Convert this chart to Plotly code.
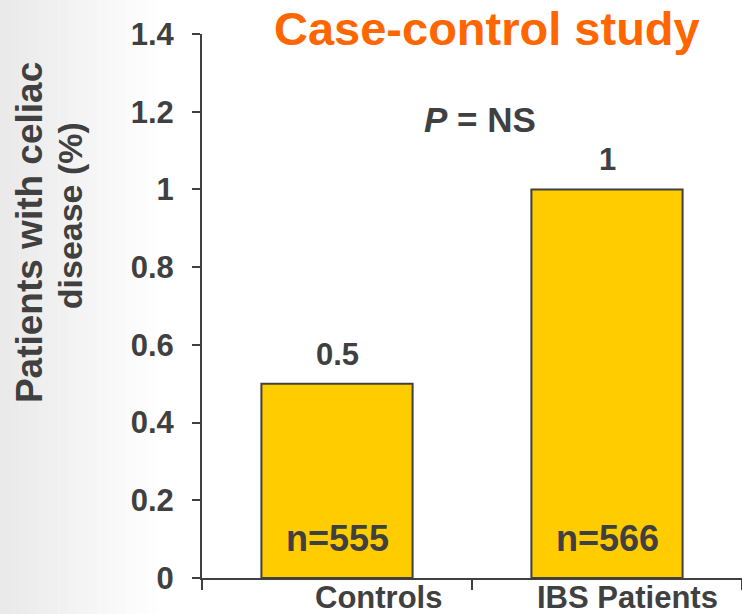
import plotly.graph_objects as go

# ---- data ----
categories = ["Controls", "IBS Patients"]
values = [0.5, 1.0]
n_sizes = [555, 566]
y_ticks = [0, 0.2, 0.4, 0.6, 0.8, 1.0, 1.2, 1.4]
y_tick_labels = ["0", "0.2", "0.4", "0.6", "0.8", "1", "1.2", "1.4"]
title_text = "Case-control study"
y_title_lines = ["Patients with celiac", "disease (%)"]
p_text = "<i>P</i> = NS"

# ---- style ----
DARK = "#404040"
FONT = "Liberation Sans, Arial, sans-serif"
cat_label_shift = [41, 20]
y_title_pos = [(-173, 0.634, 37), (-132, 0.665, 34)]

fig = go.Figure()
fig.add_trace(go.Bar(
    x=categories, y=values, width=0.56,
    marker=dict(color="#FFCC00", line=dict(color=DARK, width=2)),
    hoverinfo="skip",
))

ann = []
# value labels above bars
for c, v in zip(categories, values):
    ann.append(dict(x=c, y=v, xref="x", yref="y", text=f"{v:g}", showarrow=False,
                    yanchor="bottom", yshift=10,
                    font=dict(family=FONT, size=31, color=DARK, weight="bold")))
# n labels inside bars
for c, n in zip(categories, n_sizes):
    ann.append(dict(x=c, y=0, xref="x", yref="y", text=f"n={n}", showarrow=False,
                    yanchor="bottom", yshift=17,
                    font=dict(family=FONT, size=36, color=DARK, weight="bold")))
# category labels
for c, s in zip(categories, cat_label_shift):
    ann.append(dict(x=c, y=0, xref="x", yref="paper", text=c, showarrow=False,
                    yanchor="top", yshift=0, xshift=s,
                    font=dict(family=FONT, size=31, color=DARK, weight="bold")))
# title
ann.append(dict(x=0.527, y=1.010, xref="paper", yref="paper", text=title_text,
                showarrow=False, xanchor="center", yanchor="middle",
                font=dict(family=FONT, size=47, color="#FF6600", weight="bold")))
# P = NS
ann.append(dict(x=0.515, y=0.842, xref="paper", yref="paper", text=p_text,
                showarrow=False, xanchor="center", yanchor="middle",
                font=dict(family=FONT, size=35, color=DARK, weight="bold")))
# y title (two lines)
for line, (xs, yp, fs) in zip(y_title_lines, y_title_pos):
    ann.append(dict(x=0, y=yp, xref="paper", yref="paper", text=line,
                    showarrow=False, xanchor="center", yanchor="middle", xshift=xs,
                    textangle=-90,
                    font=dict(family=FONT, size=fs, color=DARK, weight="bold")))

# background gradient on the left
shapes = []
n_strips = 16
for i in range(n_strips):
    x0 = -0.374 + i * 0.018
    g = int(234 + (255 - 234) * i / n_strips)
    shapes.append(dict(type="rect", xref="paper", yref="paper",
                       x0=x0, x1=x0 + 0.0185, y0=-0.1, y1=1.1, layer="below",
                       line=dict(width=0), fillcolor=f"rgb({g},{g},{g})"))

fig.update_layout(
    width=742, height=614,
    margin=dict(l=202, r=0, t=34, b=36),
    paper_bgcolor="white", plot_bgcolor="rgba(0,0,0,0)",
    showlegend=False,
    annotations=ann, shapes=shapes,
    bargap=0.44,
)
fig.update_xaxes(
    showline=True, linecolor=DARK, linewidth=2,
    ticks="outside", tickson="boundaries", ticklen=10, tickwidth=2, tickcolor=DARK,
    showticklabels=False, showgrid=False, zeroline=False,
    range=[-0.5, 1.5],
)
fig.update_yaxes(
    range=[0, 1.4], tickvals=y_ticks, ticktext=y_tick_labels,
    showline=True, linecolor=DARK, linewidth=2,
    ticks="outside", ticklen=8, tickwidth=2, tickcolor=DARK,
    tickfont=dict(family=FONT, size=31, color=DARK, weight="bold"),
    ticklabelstandoff=12,
    showgrid=False, zeroline=False,
)

fig.write_html("out.html")
